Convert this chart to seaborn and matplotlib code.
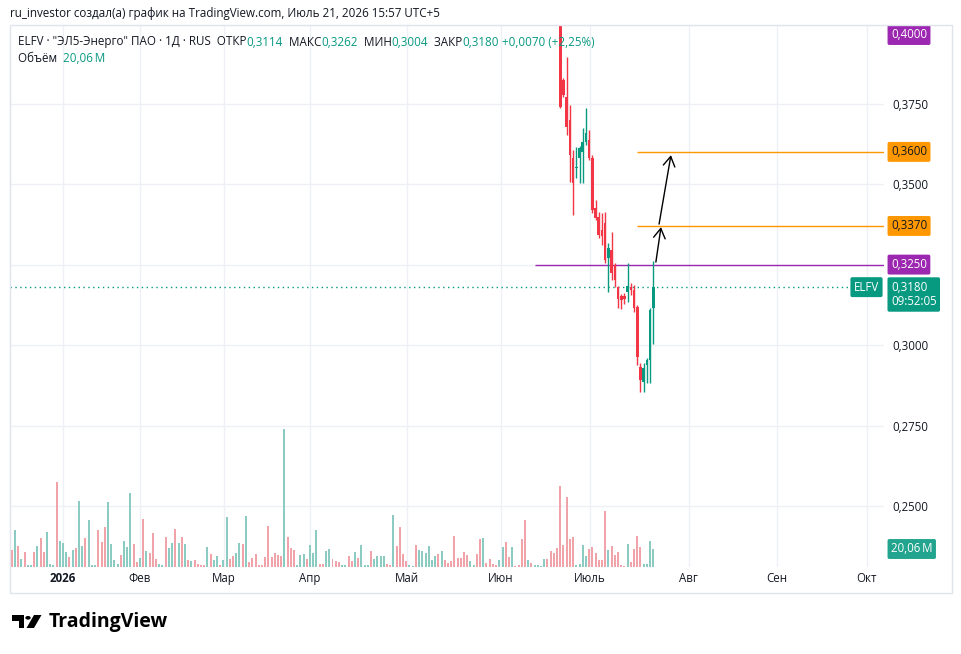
import matplotlib
matplotlib.use("Agg")
import matplotlib.pyplot as plt
import matplotlib.transforms as mtransforms
from matplotlib.patches import Rectangle, Polygon, Circle
import numpy as np
import pandas as pd
import seaborn as sns

W, H = 961, 654

# daily volume in millions, bar 0 = end of Dec 2025 ... bar 200 = Jul 21 2026
volume = [19.0, 40.7, 23.6, 9.1, 16.7, 2.7, 1.9, 16.7, 23.6, 31.9,
          16.7, 39.5, 3.8, 2.7, 94.6, 29.3, 26.6, 16.7, 11.0, 19.0,
          21.3, 73.7, 23.6, 31.9, 52.1, 2.7, 2.7, 40.7, 28.1, 44.1,
          72.6, 25.8, 8.0, 3.8, 13.3, 29.3, 22.4, 82.8, 25.8, 5.3,
          9.9, 53.2, 17.9, 15.6, 38.4, 8.7, 3.8, 2.3, 33.8, 21.3,
          27.0, 41.8, 27.0, 33.8, 25.8, 7.6, 6.5, 7.6, 3.0, 2.3,
          2.7, 22.4, 14.4, 7.6, 12.2, 2.7, 7.6, 55.5, 8.7, 12.2,
          15.6, 27.0, 25.8, 56.6, 5.3, 9.9, 14.4, 1.9, 1.9, 11.0,
          45.2, 11.0, 15.6, 13.3, 12.2, 153.5, 33.8, 21.3, 19.0, 1.9,
          13.3, 14.4, 8.7, 24.7, 15.6, 40.7, 3.0, 3.0, 17.9, 20.1,
          9.1, 7.2, 5.3, 1.9, 1.9, 12.2, 6.5, 16.7, 9.9, 24.7,
          1.9, 1.9, 17.9, 8.7, 12.2, 12.2, 12.2, 3.0, 1.9, 57.8,
          23.6, 44.1, 14.4, 6.5, 1.9, 0.8, 24.7, 19.0, 17.9, 15.6,
          23.6, 7.6, 12.2, 14.4, 17.9, 7.6, 4.2, 6.5, 35.0, 9.9,
          9.9, 16.7, 13.3, 6.5, 1.9, 14.4, 31.5, 32.7, 4.2, 8.7,
          3.0, 1.9, 7.6, 22.4, 28.1, 11.0, 22.4, 0.8, 1.9, 31.5,
          52.1, 7.6, 4.2, 1.9, 1.9, 0.8, 8.7, 8.7, 17.9, 15.6,
          21.3, 90.8, 24.7, 78.3, 31.5, 33.8, 1.9, 3.0, 24.7, 12.2,
          20.1, 22.4, 15.6, 7.6, 7.6, 62.3, 19.0, 23.6, 13.3, 16.7,
          1.9, 0.8, 25.8, 5.3, 20.1, 35.0, 22.4, 3.0, 3.0, 29.3, 20.06]
# u = up day, d = down day
vol_dir = ("dududuudud" "duuuduuudu" "duuduuuddd" "uuuuduuudd" "ududdduudu"
           "ududududdd" "duduuduudd" "uududddddd" "dddddudddu" "uuduuudduu"
           "ddduuddudu" "uuduuuuddu" "dddduuduuu" "uuududdddd" "ddduuddudd"
           "dduudduddd" "duduuuuddd" "dddddduuuu" "dddddduddd" "ddudddduuu" "u")

# candles visible in the price pane (earlier ones trade above 0.40)
first_candle = 171
opens = [0.4100, 0.3823, 0.3770, 0.3700, 0.3581, 0.3550, 0.3581, 0.3599, 0.3630, 0.3637,
         0.3581, 0.3425, 0.3398, 0.3357, 0.3379, 0.3270, 0.3295, 0.3248, 0.3180, 0.3152,
         0.3152, 0.3165, 0.3180, 0.3171, 0.3118, 0.2932, 0.2885, 0.2938, 0.2953, 0.3114]
highs = [0.4150, 0.3830, 0.3894, 0.3745, 0.3606, 0.3615, 0.3618, 0.3674, 0.3736, 0.3668,
         0.3590, 0.3450, 0.3413, 0.3410, 0.3413, 0.3317, 0.3351, 0.3255, 0.3183, 0.3158,
         0.3162, 0.3255, 0.3193, 0.3186, 0.3124, 0.2944, 0.2944, 0.2960, 0.3115, 0.3262]
lows = [0.3735, 0.3770, 0.3652, 0.3506, 0.3404, 0.3519, 0.3503, 0.3503, 0.3621, 0.3575,
        0.3410, 0.3388, 0.3332, 0.3311, 0.3255, 0.3165, 0.3202, 0.3180, 0.3115, 0.3112,
        0.3127, 0.3134, 0.3155, 0.3102, 0.2938, 0.2854, 0.2854, 0.2882, 0.2882, 0.3004]
closes = [0.3739, 0.3776, 0.3677, 0.3590, 0.3503, 0.3553, 0.3612, 0.3630, 0.3658, 0.3581,
          0.3419, 0.3394, 0.3342, 0.3339, 0.3264, 0.3301, 0.3224, 0.3202, 0.3143, 0.3140,
          0.3143, 0.3183, 0.3171, 0.3115, 0.2963, 0.2891, 0.2929, 0.2953, 0.3110, 0.3180]

month_pos = [16, 40, 66.2, 93, 123.2, 152.5, 180.3, 211.1, 238.6, 266.6]
month_lbl = ["2026", "Фев", "Мар", "Апр", "Май", "Июн", "Июль", "Авг", "Сен", "Окт"]

price_ticks = [0.25, 0.275, 0.30, 0.325, 0.35, 0.375]
purple_level = 0.3250
orange_levels = [0.3600, 0.3370]
top_level = 0.4000
last_time = "09:52:05"

TEAL = "#089981"
RED = "#f23645"
DARK = "#131722"
PURPLE = "#9c27b0"
ORANGE = "#ff9800"


def fmt(v):
    return f"{v:.4f}".replace(".", ",")


sns.set_theme(style="white")
plt.rcParams["font.family"] = ["Open Sans", "DejaVu Sans"]

fig = plt.figure(figsize=(W / 100, H / 100), dpi=100)
fig.patch.set_facecolor("white")
ax = fig.add_axes([10 / W, 1 - 567 / H, 874 / W, 542 / H])
axv = ax.twinx()

#=================================================================================
# volume
#=================================================================================
vdf = pd.DataFrame({"bar": np.arange(len(volume)), "vol": volume,
                    "dir": ["up" if d == "u" else "down" for d in vol_dir]})
sns.barplot(data=vdf, x="bar", y="vol", hue="dir", palette={"up": "#8ccbc1", "down": "#f0a3a8"},
            native_scale=True, dodge=False, width=0.62, saturation=1, errorbar=None,
            legend=False, linewidth=0, ax=axv)
axv.set_ylim(0, volume[-1] * 542 / 18)
axv.set_yticks([])
axv.set_ylabel("")
axv.set_xlabel("")

#=================================================================================
# candles
#=================================================================================
ci = np.arange(first_candle, first_candle + len(opens))
o, hi, lo, c = map(np.array, (opens, highs, lows, closes))
col = np.where(c >= o, TEAL, RED)
ax.vlines(ci, lo, hi, colors=col, lw=1, zorder=3)
ax.bar(ci, np.maximum(np.abs(c - o), 0.0004), bottom=np.minimum(o, c), width=0.8,
       color=col, linewidth=0, zorder=4)

xmax = -0.53 + 874 / 3.208
ax.set_xlim(-0.53, xmax)
ax.set_ylim(0.2311, 0.3994)

# drawings
ax.axhline(closes[-1], color=TEAL, lw=1, ls=(0, (1, 2.5)), zorder=2)
ax.hlines(purple_level, 163, xmax, color=PURPLE, lw=1, zorder=2)
ax.hlines(orange_levels, 195, xmax, color=ORANGE, lw=1, zorder=2)
arrow = dict(arrowstyle="->,head_length=0.5,head_width=0.3", color="black", lw=1,
             shrinkA=0, shrinkB=0, mutation_scale=14)
ax.annotate("", xy=(202.4, 0.33665), xytext=(200.8, 0.32578), arrowprops=arrow)
ax.annotate("", xy=(205.5, 0.3590), xytext=(201.8, 0.33758), arrowprops=arrow)

# axes
ax.yaxis.tick_right()
ax.set_yticks(price_ticks, [fmt(v) if v != purple_level else "" for v in price_ticks])
ax.set_xticks(month_pos, month_lbl)
ax.get_xticklabels()[0].set_fontweight("bold")
ax.tick_params(axis="y", length=0, pad=6.3, labelsize=8.3, labelcolor=DARK)
ax.tick_params(axis="x", length=0, pad=3.5, labelsize=8.3, labelcolor=DARK)
ax.grid(True, color="#eef0f5", lw=1)
for a in (ax, axv):
    for s in a.spines.values():
        s.set_visible(False)

# price scale boxes
blend = mtransforms.blended_transform_factory(ax.transAxes, ax.transData)
xb = (891 - 10) / 874
box = lambda fc: dict(boxstyle="round,pad=0.3,rounding_size=0.15", fc=fc, ec="none")
ax.text(xb, 1 - 10 / 542, fmt(top_level), transform=ax.transAxes, ha="left", va="center",
        fontsize=8.3, color="white", bbox=box(PURPLE), clip_on=False, zorder=6)
for lv in orange_levels:
    ax.text(xb, lv, fmt(lv), transform=blend, ha="left", va="center", fontsize=8.3,
            color=DARK, bbox=box(ORANGE), clip_on=False, zorder=6)
ax.text(xb, purple_level, fmt(purple_level), transform=blend, ha="left", va="center",
        fontsize=8.3, color="white", bbox=box(PURPLE), clip_on=False, zorder=6)
ax.annotate(fmt(closes[-1]) + "\n" + last_time, xy=(1.0, closes[-1]), xycoords=blend,
            xytext=(5.0, 4.6), textcoords="offset points", ha="left", va="top",
            fontsize=8.3, color="white", linespacing=1.15,
            bbox=dict(boxstyle="round,pad=0.3,rounding_size=0.15", fc=TEAL, ec="none"),
            annotation_clip=False, zorder=6)
ax.text((866.5 - 10) / 874, closes[-1], "ELFV", transform=blend, ha="center", va="center",
        fontsize=8.3, color="white", bbox=box(TEAL), clip_on=False, zorder=6)
vol_txt = f"{volume[-1]:.2f}".replace(".", ",") + "\u2009M"
vblend = mtransforms.blended_transform_factory(axv.transAxes, axv.transData)
axv.text(xb, volume[-1], vol_txt, transform=vblend, ha="left", va="center", fontsize=8.3,
         color="white", bbox=box("#22a48e"), clip_on=False, zorder=6)

# pane frame
fig.add_artist(Rectangle((10 / W, 1 - 593 / H), 942 / W, 568 / H, transform=fig.transFigure,
                         fill=False, ec="#e0e3eb", lw=1))

#=================================================================================
# header and logo
#=================================================================================
renderer = fig.canvas.get_renderer()


def fit(t, width_px):
    w = t.get_window_extent(renderer).width
    t.set_fontsize(t.get_fontsize() * width_px / w)


t1 = fig.text(10 / W, 1 - 14 / H, "ru_investor создал(а) график на TradingView.com, "
              "Июль 21, 2026 15:57 UTC+5", va="center", ha="left", fontsize=9, color=DARK)
fit(t1, 430)
fs = t1.get_fontsize()

chg = closes[-1] - closes[-2]
pct = chg / closes[-2] * 100
sign = "+" if chg >= 0 else "−"
parts = [("ELFV · \"ЭЛ5-Энерго\" ПАО · 1Д · RUS  ОТКР", DARK), (fmt(opens[-1]), TEAL),
         ("  МАКС", DARK), (fmt(highs[-1]), TEAL), ("  МИН", DARK), (fmt(lows[-1]), TEAL),
         ("  ЗАКР", DARK), (fmt(closes[-1]), TEAL),
         (f" {sign}{fmt(abs(chg))} ({sign}{abs(pct):.2f}%)".replace(".", ","), TEAL)]
x = 18
for txt, cl in parts:
    t = fig.text(x / W, 1 - 42 / H, txt, va="center", ha="left", fontsize=fs, color=cl)
    x += t.get_window_extent(renderer).width
x = 18
for txt, cl in [("Объём  ", DARK), (vol_txt, TEAL)]:
    t = fig.text(x / W, 1 - 59 / H, txt, va="center", ha="left", fontsize=fs, color=cl)
    x += t.get_window_extent(renderer).width

px = lambda x, y: (x / W, 1 - y / H)
fig.add_artist(Polygon([px(12, 615), px(24, 615), px(24, 628), px(18.5, 628), px(18.5, 620.5),
                        px(12, 620.5)], closed=True, transform=fig.transFigure, fc="black", ec="none"))
fig.add_artist(Circle(px(28, 617.8), 2.7 / W, transform=fig.transFigure, fc="black", ec="none"))
fig.add_artist(Polygon([px(34, 615), px(41.5, 615), px(34, 628), px(26.5, 628)], closed=True,
                       transform=fig.transFigure, fc="black", ec="none"))
tl = fig.text(49 / W, 1 - 622 / H, "TradingView", va="center", ha="left", fontsize=14,
              fontweight="bold", color="black")
fit(tl, 120)

fig.savefig("out.png", dpi=100, facecolor="white")
